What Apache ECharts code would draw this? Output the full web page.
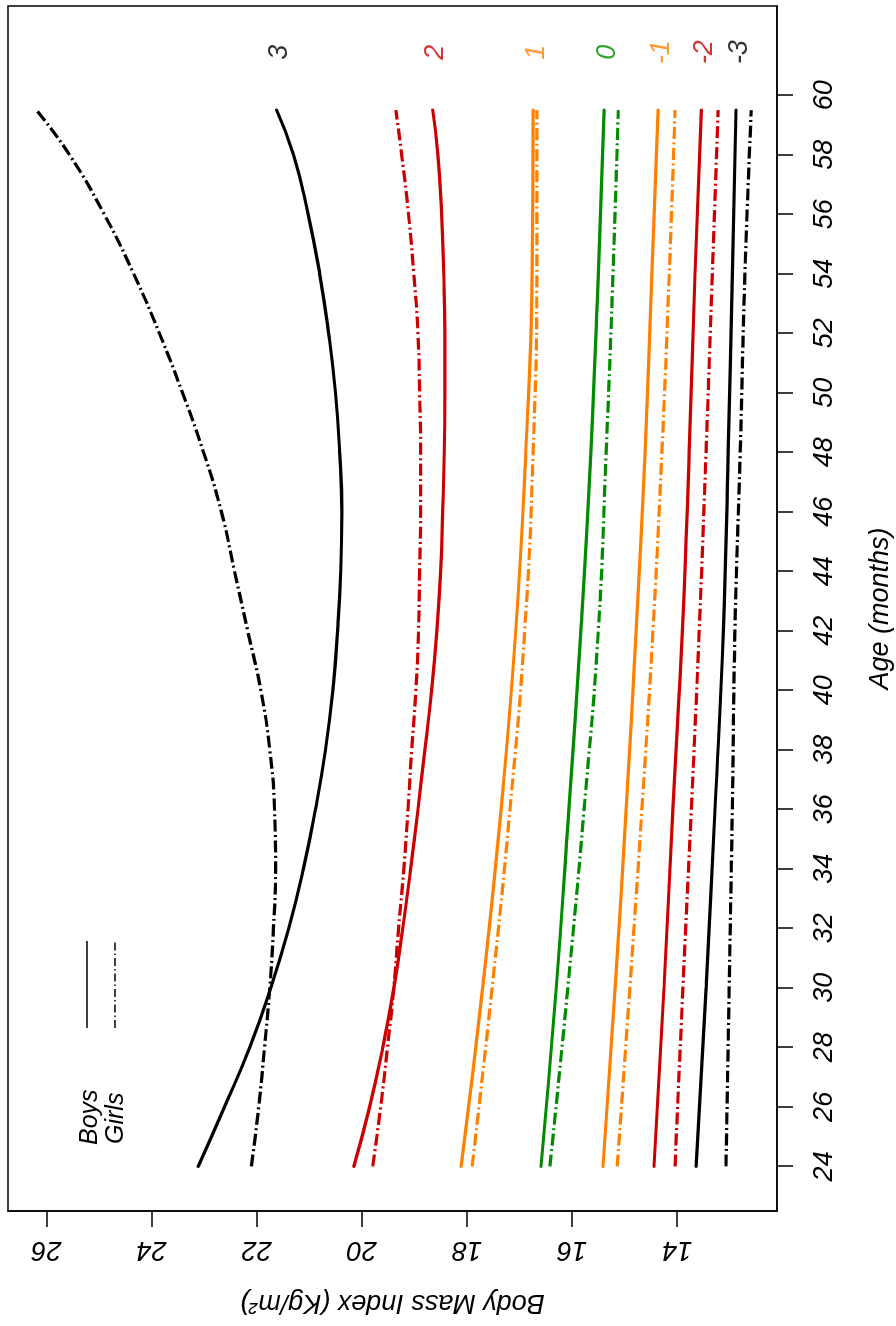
<!DOCTYPE html>
<html>
<head>
<meta charset="utf-8">
<script src="https://cdn.jsdelivr.net/npm/echarts@6/dist/echarts.min.js"></script>
<style>
html,body{margin:0;padding:0;background:#fff;overflow:hidden;}
#wrap{position:absolute;left:0;top:0;width:896px;height:1326px;overflow:hidden;background:#fff;}
#chart{position:absolute;left:0;top:0;width:1326px;height:896px;transform-origin:0 0;transform:translate(0,1326px) rotate(-90deg);}
</style>
</head>
<body>
<div id="wrap"><div id="chart"></div></div>
<script>
// ---- data ----
const ageFine = [24, 26, 28, 30, 32, 34, 36, 38, 40, 42, 44, 46, 48, 50, 52, 54, 56, 58, 59.5];
const ageCoarse = [24, 30, 36, 42, 48, 54, 59.5];
const boysP3  = [23.11, 22.61, 22.13, 21.73, 21.39, 21.11, 20.88, 20.69, 20.55, 20.46, 20.40, 20.38, 20.42, 20.50, 20.63, 20.80, 21.02, 21.30, 21.62];
const girlsP3 = [22.10, 21.96, 21.85, 21.75, 21.68, 21.64, 21.66, 21.75, 21.92, 22.17, 22.42, 22.67, 23.01, 23.41, 23.85, 24.34, 24.90, 25.56, 26.19];
const boysP2  = [20.15, 19.85, 19.60, 19.39, 19.22, 19.07, 18.93, 18.80, 18.67, 18.57, 18.50, 18.46, 18.43, 18.42, 18.42, 18.44, 18.48, 18.55, 18.65];
const girlsP2 = [19.79, 19.64, 19.51, 19.39, 19.30, 19.20, 19.12, 19.05, 18.97, 18.92, 18.90, 18.88, 18.88, 18.90, 18.93, 19.01, 19.11, 19.24, 19.35];
const boysP1  = [18.11, 17.70, 17.35, 17.07, 16.88, 16.76, 16.74];
const girlsP1 = [17.90, 17.52, 17.18, 16.90, 16.74, 16.67, 16.67];
const boys0   = [16.59, 16.30, 16.06, 15.83, 15.64, 15.50, 15.39];
const girls0  = [16.42, 16.08, 15.77, 15.50, 15.35, 15.22, 15.12];
const boysM1  = [15.41, 15.18, 14.97, 14.78, 14.61, 14.48, 14.36];
const girlsM1 = [15.14, 14.90, 14.67, 14.46, 14.29, 14.15, 14.04];
const boysM2  = [14.44, 14.25, 14.08, 13.90, 13.77, 13.66, 13.54];
const girlsM2 = [14.04, 13.89, 13.73, 13.58, 13.45, 13.33, 13.22];
const boysM3  = [13.64, 13.45, 13.28, 13.12, 13.03, 12.95, 12.88];
const girlsM3 = [13.07, 13.01, 12.95, 12.90, 12.80, 12.71, 12.59];
const zLabels = ['3', '2', '1', '0', '-1', '-2', '-3'];
const zLabelAge = 61.45;
const ageTicks = [24, 26, 28, 30, 32, 34, 36, 38, 40, 42, 44, 46, 48, 50, 52, 54, 56, 58, 60];
const bmiTicks = [14, 16, 18, 20, 22, 24, 26];
const legendNames = ['Boys', 'Girls'];

// ---- styling ----
const FONT = "'Liberation Sans', Arial, Helvetica, sans-serif";
const RED = '#CD0000', ORANGE = '#FF8000', GREEN = '#008B00', BLACK = '#000000';
const levels = [
  {boys: boysP3, girls: girlsP3, ages: ageFine,   color: BLACK},
  {boys: boysP2, girls: girlsP2, ages: ageFine,   color: RED},
  {boys: boysP1, girls: girlsP1, ages: ageCoarse, color: ORANGE},
  {boys: boys0,  girls: girls0,  ages: ageCoarse, color: GREEN},
  {boys: boysM1, girls: girlsM1, ages: ageCoarse, color: ORANGE},
  {boys: boysM2, girls: girlsM2, ages: ageCoarse, color: RED},
  {boys: boysM3, girls: girlsM3, ages: ageCoarse, color: BLACK}
];
const DOTDASH = [12, 3.5, 2, 3.5];

const series = [];
levels.forEach((lv, i) => {
  series.push({
    name: 'Boys', type: 'line', smooth: 0.5, symbol: 'none', silent: true,
    data: lv.ages.map((a, k) => [a, lv.boys[k]]),
    lineStyle: {color: lv.color, width: 3.2, type: 'solid', cap: 'round', join: 'round'},
    itemStyle: {color: lv.color}, z: 3
  });
  series.push({
    name: 'Girls', type: 'line', smooth: 0.5, symbol: 'none', silent: true,
    data: lv.ages.map((a, k) => [a, lv.girls[k]]),
    lineStyle: {color: lv.color, width: 3.2, type: DOTDASH, cap: 'butt', join: 'round'},
    itemStyle: {color: lv.color}, z: 2
  });
  series.push({
    name: 'z' + zLabels[i], type: 'scatter', symbolSize: 0, silent: true,
    data: [[zLabelAge, lv.boys[lv.boys.length - 1]]],
    label: {show: true, position: 'inside', offset: [0, 3], formatter: zLabels[i], color: lv.color,
            fontFamily: FONT, fontStyle: 'italic', fontSize: 27}
  });
});

// legend drawn as graphic (text on the left, line sample on the right, as in the reference)
const graphic = [
  {type: 'text', left: 181, top: 78, silent: true,
   style: {text: legendNames[0], font: "italic 25px 'Liberation Sans', Arial, sans-serif", fill: '#000'}},
  {type: 'text', left: 182, top: 104, silent: true,
   style: {text: legendNames[1], font: "italic 25px 'Liberation Sans', Arial, sans-serif", fill: '#000'}},
  {type: 'line', silent: true, shape: {x1: 298, y1: 87, x2: 385, y2: 87},
   style: {stroke: '#000', lineWidth: 1.4}},
  {type: 'line', silent: true, shape: {x1: 298, y1: 115, x2: 385, y2: 115},
   style: {stroke: '#000', lineWidth: 1.4, lineDash: [8, 3, 1.5, 3]}}
];

const chart = echarts.init(document.getElementById('chart'), null, {renderer: 'canvas', width: 1326, height: 896});
chart.setOption({
  animation: false,
  backgroundColor: '#ffffff',
  graphic: graphic,
  grid: {left: 115, right: 6, top: 8, bottom: 119, outerBoundsMode: 'none', containLabel: false,
         show: true, borderColor: '#000', borderWidth: 1.5},
  xAxis: {
    type: 'value', min: 22.5, max: 63, position: 'bottom',
    name: 'Age (months)', nameLocation: 'middle', nameGap: 90,
    nameTextStyle: {fontFamily: FONT, fontStyle: 'italic', fontSize: 27, color: '#000'},
    axisLine: {show: true, onZero: false, lineStyle: {color: '#000', width: 1.5}},
    axisTick: {show: true, inside: false, length: 16, customValues: ageTicks, lineStyle: {color: '#000', width: 1.5}},
    axisLabel: {show: true, customValues: ageTicks, margin: 34, fontFamily: FONT, fontStyle: 'italic', fontSize: 27, color: '#000'},
    splitLine: {show: false}
  },
  yAxis: {
    type: 'value', min: 12.1, max: 26.73, position: 'left',
    name: 'Body Mass Index (Kg/m²)', nameLocation: 'middle', nameGap: 78, nameRotate: 90,
    nameTextStyle: {fontFamily: FONT, fontStyle: 'italic', fontSize: 27, color: '#000'},
    axisLine: {show: true, onZero: false, lineStyle: {color: '#000', width: 1.5}},
    axisTick: {show: true, inside: false, length: 16, customValues: bmiTicks, lineStyle: {color: '#000', width: 1.5}},
    axisLabel: {show: true, customValues: bmiTicks, rotate: 90, margin: 25, fontFamily: FONT, fontStyle: 'italic', fontSize: 27, color: '#000'},
    splitLine: {show: false}
  },
  series: series
});
</script>
</body>
</html>
